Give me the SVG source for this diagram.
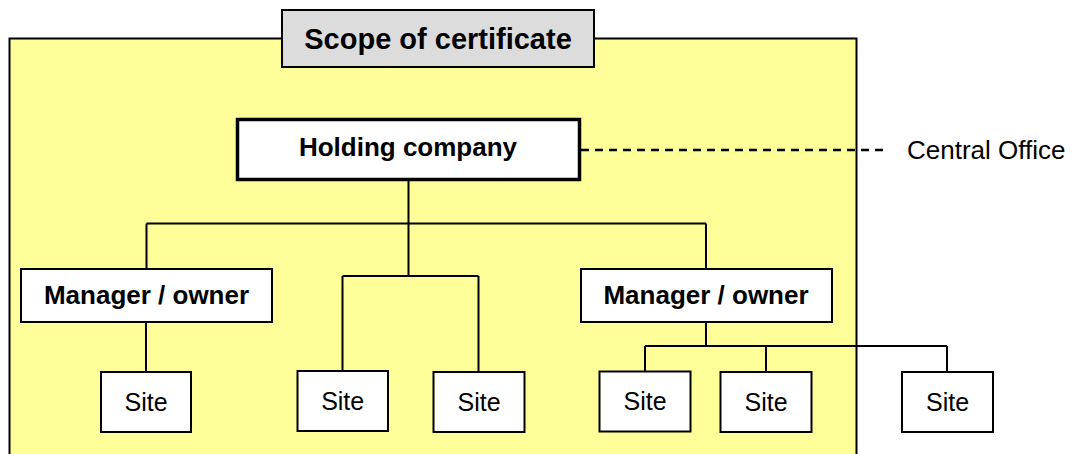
<svg xmlns="http://www.w3.org/2000/svg" width="1079" height="454" viewBox="0 0 1079 454">
  <style>
    .box { fill: #ffffff; stroke: #000000; stroke-width: 2; }
    .lbl { font-family: "Liberation Sans", Arial, sans-serif; fill: #000000; text-anchor: middle; }
    .bold { font-weight: bold; font-size: 26px; }
    .site { font-size: 25px; }
    .wire { fill: none; stroke: #000000; stroke-width: 2; }
  </style>
  <rect width="1079" height="454" fill="#ffffff"/>

  <!-- certificate scope area -->
  <g id="scope">
    <rect x="9.5" y="38.5" width="847" height="440" fill="#ffff99" stroke="#000000" stroke-width="2"/>
    <rect x="282" y="10" width="312" height="57" fill="#dcdcdc" stroke="#000000" stroke-width="2"/>
    <text class="lbl" x="438" y="48.5" font-size="29" font-weight="bold">Scope of certificate</text>
  </g>

  <!-- connectors -->
  <g id="connectors">
    <path class="wire" d="M408.5 181 V276 M146.5 223.5 H706 M146.5 223.5 V269 M706 223.5 V269"/>
    <path class="wire" d="M342.5 276 H478.5 M342.5 276 V371 M478.5 276 V372"/>
    <path class="wire" d="M146 322 V372"/>
    <path class="wire" d="M706 322 V346 M645 346 H947 M645 346 V371 M766 346 V372 M947 346 V372"/>
    <path d="M581 150 H883" fill="none" stroke="#000000" stroke-width="2.5" stroke-dasharray="8 6"/>
  </g>

  <g id="holding">
    <rect x="237.5" y="119.5" width="342" height="60" fill="#ffffff" stroke="#000000" stroke-width="3.5"/>
    <text class="lbl bold" x="408" y="156">Holding company</text>
  </g>

  <g id="central-office">
    <text x="907" y="159" font-family="Liberation Sans, Arial, sans-serif" font-size="26">Central Office</text>
  </g>

  <g id="manager-left">
    <rect class="box" x="21" y="269" width="251" height="53"/>
    <text class="lbl bold" x="146.5" y="304">Manager / owner</text>
  </g>

  <g id="manager-right">
    <rect class="box" x="581" y="269" width="251" height="53"/>
    <text class="lbl bold" x="706" y="304">Manager / owner</text>
  </g>

  <g id="site-1">
    <rect class="box" x="101" y="372" width="90" height="60"/>
    <text class="lbl site" x="146" y="410.5">Site</text>
  </g>
  <g id="site-2">
    <rect class="box" x="297.5" y="371" width="90.5" height="60"/>
    <text class="lbl site" x="342.7" y="409.5">Site</text>
  </g>
  <g id="site-3">
    <rect class="box" x="433.5" y="372" width="91" height="60"/>
    <text class="lbl site" x="479" y="410.5">Site</text>
  </g>
  <g id="site-4">
    <rect class="box" x="599.5" y="371.5" width="91" height="60"/>
    <text class="lbl site" x="645" y="410">Site</text>
  </g>
  <g id="site-5">
    <rect class="box" x="720.5" y="372" width="91" height="60"/>
    <text class="lbl site" x="766" y="410.5">Site</text>
  </g>
  <g id="site-6">
    <rect class="box" x="902" y="372" width="91" height="60"/>
    <text class="lbl site" x="947.5" y="410.5">Site</text>
  </g>
</svg>
